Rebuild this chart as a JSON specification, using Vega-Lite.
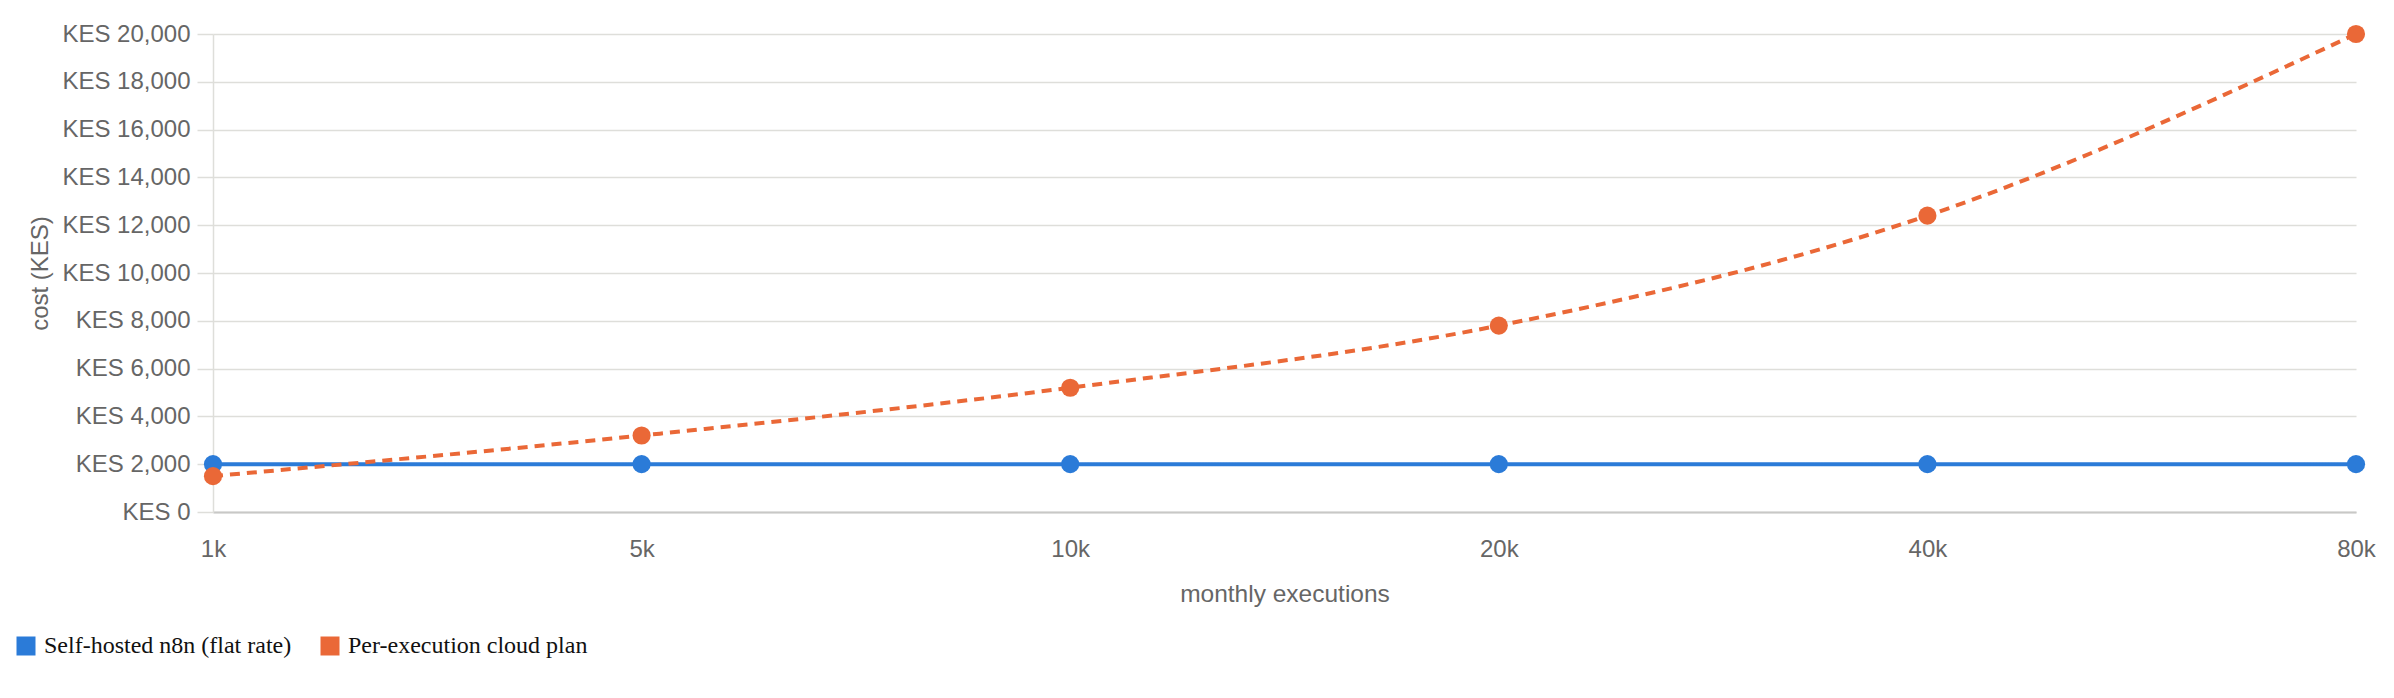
{
  "$schema": "https://vega.github.io/schema/vega-lite/v6.json",
  "width": 2143,
  "height": 478,
  "autosize": {"type": "none"},
  "padding": {"left": 213, "top": 34, "right": 38, "bottom": 186},
  "background": "white",
  "config": {
    "view": {"stroke": null},
    "font": "Liberation Sans"
  },
  "data": {
    "values": [
      {"executions": "1k", "series": "Self-hosted n8n (flat rate)", "cost": 2000},
      {"executions": "5k", "series": "Self-hosted n8n (flat rate)", "cost": 2000},
      {"executions": "10k", "series": "Self-hosted n8n (flat rate)", "cost": 2000},
      {"executions": "20k", "series": "Self-hosted n8n (flat rate)", "cost": 2000},
      {"executions": "40k", "series": "Self-hosted n8n (flat rate)", "cost": 2000},
      {"executions": "80k", "series": "Self-hosted n8n (flat rate)", "cost": 2000},
      {"executions": "1k", "series": "Per-execution cloud plan", "cost": 1500},
      {"executions": "5k", "series": "Per-execution cloud plan", "cost": 3200},
      {"executions": "10k", "series": "Per-execution cloud plan", "cost": 5200},
      {"executions": "20k", "series": "Per-execution cloud plan", "cost": 7800},
      {"executions": "40k", "series": "Per-execution cloud plan", "cost": 12400},
      {"executions": "80k", "series": "Per-execution cloud plan", "cost": 20000}
    ]
  },
  "encoding": {
    "x": {
      "field": "executions",
      "type": "ordinal",
      "sort": ["1k", "5k", "10k", "20k", "40k", "80k"],
      "scale": {"type": "point", "padding": 0},
      "axis": {
        "title": "monthly executions",
        "labelAngle": 0,
        "ticks": false,
        "grid": false,
        "domainColor": "#c8c8c6",
        "domainWidth": 2,
        "labelFontSize": 24,
        "labelColor": "#666666",
        "labelPadding": 25,
        "titleFontSize": 24.5,
        "titleFontWeight": "normal",
        "titleColor": "#666666",
        "titlePadding": 21
      }
    },
    "y": {
      "field": "cost",
      "type": "quantitative",
      "scale": {"domain": [0, 20000]},
      "axis": {
        "title": "cost (KES)",
        "values": [0, 2000, 4000, 6000, 8000, 10000, 12000, 14000, 16000, 18000, 20000],
        "labelExpr": "'KES ' + format(datum.value, ',')",
        "grid": true,
        "gridColor": "#dededa",
        "gridWidth": 1.5,
        "domainColor": "#dededa",
        "domainWidth": 1.5,
        "tickColor": "#dededa",
        "tickWidth": 1.5,
        "tickSize": 16,
        "labelPadding": 7,
        "labelFontSize": 24,
        "labelColor": "#666666",
        "titleFontSize": 24,
        "titleFontWeight": "normal",
        "titleColor": "#666666",
        "titlePadding": 9
      }
    },
    "color": {
      "field": "series",
      "type": "nominal",
      "scale": {"domain": ["Self-hosted n8n (flat rate)", "Per-execution cloud plan"], "range": ["#2b7bd8", "#ea6837"]},
      "legend": {
        "title": null,
        "orient": "none",
        "legendX": -199,
        "legendY": 600,
        "direction": "horizontal",
        "padding": 0,
        "symbolType": "square",
        "symbolSize": 361,
        "symbolStrokeWidth": 0,
        "symbolOpacity": 1,
        "labelFont": "Liberation Serif",
        "labelFontSize": 24,
        "labelColor": "#111111",
        "labelOffset": 6,
        "columnPadding": 26,
        "labelLimit": 0
      }
    }
  },
  "layer": [
    {
      "mark": {"type": "line", "interpolate": "monotone", "strokeWidth": 4},
      "encoding": {
        "strokeDash": {
          "field": "series",
          "type": "nominal",
          "scale": {"domain": ["Self-hosted n8n (flat rate)", "Per-execution cloud plan"], "range": [[1, 0], [10, 7]]},
          "legend": null
        }
      }
    },
    {
      "mark": {"type": "point", "filled": true, "size": 330, "opacity": 1}
    }
  ]
}
